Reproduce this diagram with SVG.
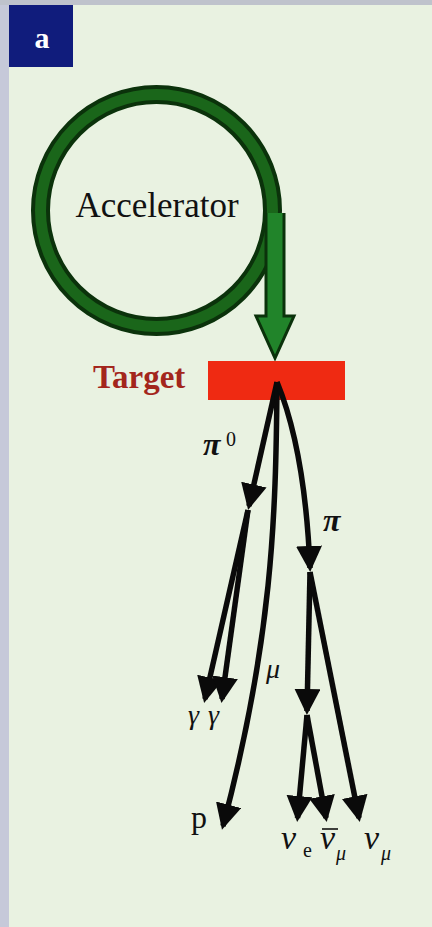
<svg xmlns="http://www.w3.org/2000/svg" width="432" height="927" viewBox="0 0 432 927">
<style>
.lbl{font-family:"Liberation Serif","DejaVu Serif",serif;fill:#111}
.it{font-style:italic}
.ln{fill:none;stroke:#0a0a0a;stroke-width:5.5}
</style>
<defs>
<marker id="ah" markerUnits="userSpaceOnUse" markerWidth="28" markerHeight="28" viewBox="0 0 28 28" refX="22" refY="13" orient="auto">
<path d="M0,0 L26,13 L0,26 Z" fill="#0a0a0a"/>
</marker>
</defs>
<rect width="432" height="927" fill="#e9f2e1"/>
<rect x="0" y="0" width="9" height="927" fill="#c6c9d9"/>
<rect x="0" y="0" width="432" height="5" fill="#bfc3cc"/>
<g id="panel-label">
<rect x="9" y="5" width="64" height="62" fill="#101c7c"/>
<text x="42" y="48" text-anchor="middle" font-family="Liberation Serif, serif" font-weight="bold" font-size="30" fill="#ffffff">a</text>
</g>
<g id="accelerator">
<circle cx="156.5" cy="210.5" r="116" fill="none" stroke="#0b320b" stroke-width="19"/>
<circle cx="156.5" cy="210.5" r="116" fill="none" stroke="#1a661a" stroke-width="11"/>
<path d="M266,213 V316 H256 L275,358 L294,316 H284 V213" fill="#21842a" stroke="#0b320b" stroke-width="3"/>
<text class="lbl" x="157" y="217" text-anchor="middle" font-size="35">Accelerator</text>
</g>
<g id="target">
<rect x="208" y="361" width="137" height="39" fill="#ef2a12"/>
<text class="lbl" x="93" y="388" font-size="33" font-weight="bold" style="fill:#a3261c">Target</text>
</g>
<g id="connectors">
<path class="ln" d="M277,382 Q264,440 249,506" marker-end="url(#ah)"/>
<path class="ln" d="M248,510 L205,699" marker-end="url(#ah)"/>
<path class="ln" d="M248,510 L222,699" marker-end="url(#ah)"/>
<path class="ln" d="M277,382 C276,520 272,640 223,826" marker-end="url(#ah)"/>
<path class="ln" d="M277,382 Q305,450 310,568" marker-end="url(#ah)"/>
<path class="ln" d="M310,572 L307,711" marker-end="url(#ah)"/>
<path class="ln" d="M310,572 L359,818" marker-end="url(#ah)"/>
<path class="ln" d="M307,715 L297.5,818" marker-end="url(#ah)"/>
<path class="ln" d="M307,715 L326,818" marker-end="url(#ah)"/>
</g>
<g id="labels">
<text class="lbl it" x="203" y="455" font-size="32" font-weight="bold">π<tspan x="226" y="446" font-size="20" font-style="normal" font-weight="normal">0</tspan></text>
<text class="lbl it" x="323" y="531" font-size="32" font-weight="bold">π</text>
<text class="lbl it" x="266" y="678" font-size="28">μ</text>
<text class="lbl it" x="188" y="724" font-size="28">γ</text>
<text class="lbl it" x="208" y="724" font-size="28">γ</text>
<text class="lbl" x="191" y="828" font-size="32">p</text>
<text class="lbl it" x="281" y="849" font-size="34">ν<tspan x="303" y="857" font-size="20" font-style="normal">e</tspan></text>
<text class="lbl it" x="320" y="849" font-size="34">ν<tspan x="336" y="860" font-size="20">μ</tspan></text>
<line x1="322" y1="829" x2="338" y2="829" stroke="#111" stroke-width="1.6"/>
<text class="lbl it" x="364" y="849" font-size="34">ν<tspan x="381" y="860" font-size="20">μ</tspan></text>
</g>
</svg>
